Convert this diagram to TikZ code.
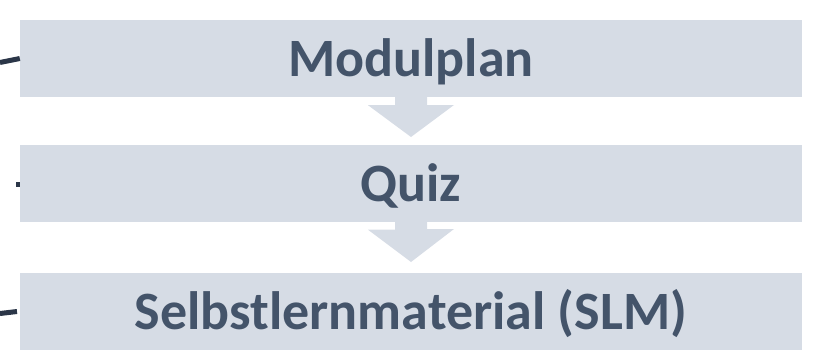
\documentclass[tikz,border=0pt]{standalone}
\usepackage{fontspec}
\setmainfont{Carlito}
\definecolor{barfill}{HTML}{D6DCE5}
\definecolor{bartext}{HTML}{44546A}
\definecolor{linkline}{HTML}{2B3648}
\begin{document}
\begin{tikzpicture}[x=1pt,y=-1pt,
  bar/.style={fill=barfill, draw=none, minimum width=782pt, minimum height=77pt,
    inner sep=0pt, text height=40pt, text depth=3pt,
    font=\fontsize{54}{62}\selectfont\bfseries, text=bartext},
  flowarrow/.style={fill=barfill, draw=none},
  link/.style={draw=linkline, line width=5pt}]
  \useasboundingbox (0,0) rectangle (838,353);

  % three stacked bars
  \node[bar] (plan) at (411,58.5) {Modulplan};
  \node[bar] (quiz) at (411,183) {Quiz};
  \node[bar] (slm)  at (411,311) {Selbstlernmaterial (SLM)};

  % block arrows between the bars
  \fill[flowarrow] (plan.south) ++(-16,0) -- ++(0,8) -- ++(-27,0) -- (411,137)
    -- (454,105) -- ++(-27,0) -- ++(0,-8) -- cycle;
  \fill[flowarrow] (quiz.south) ++(-16,0) -- ++(0,8) -- ++(-27,0) -- (411,262)
    -- (454,229) -- ++(-27,0) -- ++(0,-8) -- cycle;

  % incoming connector ends on the left
  \coordinate (in1) at (0,62.5);
  \coordinate (in2) at (16,184);
  \coordinate (in3) at (0,313.5);
  \draw[link] (in1) -- (plan.west |- 0,58.5);
  \draw[link] (in2) -- (quiz.west |- 0,184);
  \draw[link] (in3) -- (17,311.5);
\end{tikzpicture}
\end{document}
